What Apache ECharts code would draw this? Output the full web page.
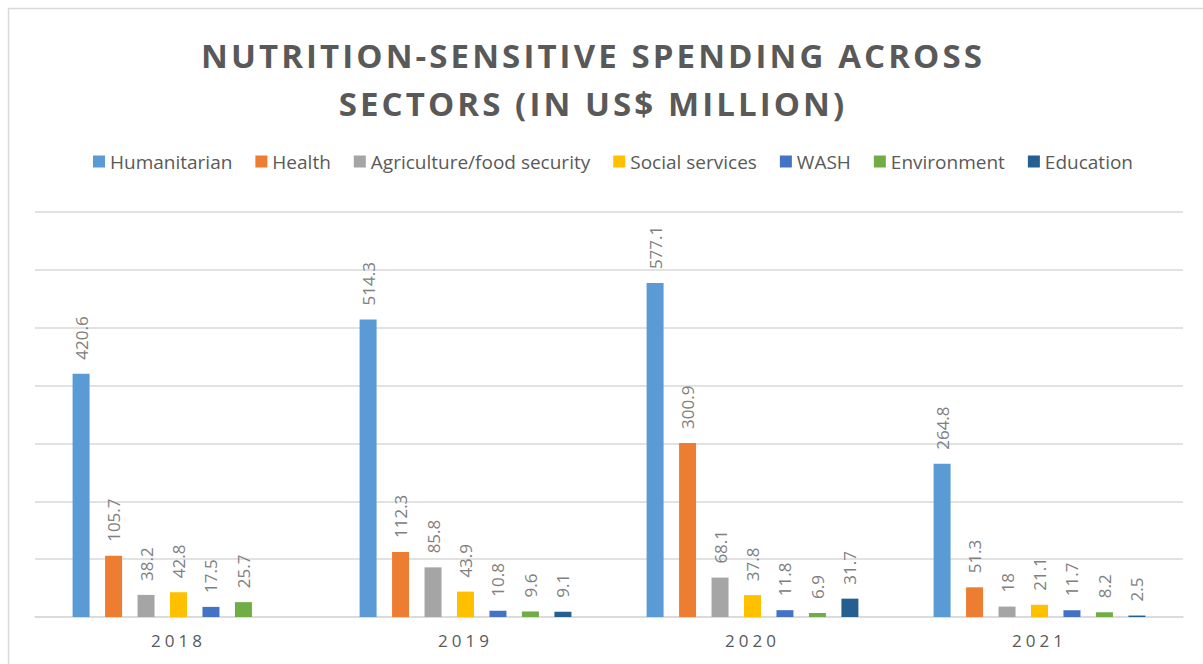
<!DOCTYPE html>
<html>
<head>
<meta charset="utf-8">
<script src="https://cdn.jsdelivr.net/npm/echarts@6/dist/echarts.min.js"></script>
<style>
html,body{margin:0;padding:0;background:#fff;}
#c{width:1203px;height:664px;}
</style>
</head>
<body>
<div id="c"></div>
<script>
var years = ['2018', '2019', '2020', '2021'];
var humanitarian = [420.6, 514.3, 577.1, 264.8];
var health = [105.7, 112.3, 300.9, 51.3];
var agriculture = [38.2, 85.8, 68.1, 18];
var socialServices = [42.8, 43.9, 37.8, 21.1];
var wash = [17.5, 10.8, 11.8, 11.7];
var environment = [25.7, 9.6, 6.9, 8.2];
var education = [null, 9.1, 31.7, 2.5];
var yTicks = [0, 100, 200, 300, 400, 500, 600, 700];
var titleLines = ['NUTRITION-SENSITIVE SPENDING ACROSS', 'SECTORS (IN US$ MILLION)'];

var seriesDefs = [
  ['Humanitarian', humanitarian, '#5B9BD5'],
  ['Health', health, '#ED7D31'],
  ['Agriculture/food security', agriculture, '#A5A5A5'],
  ['Social services', socialServices, '#FFC000'],
  ['WASH', wash, '#4472C4'],
  ['Environment', environment, '#70AD47'],
  ['Education', education, '#255E91']
];

var chart = echarts.init(document.getElementById('c'), null, { renderer: 'svg' });
var fontFam = '"Open Sans", "DejaVu Sans", sans-serif';

chart.setOption({
  animation: false,
  textStyle: { fontFamily: fontFam },
  graphic: [{
    type: 'rect',
    shape: { x: 8.5, y: 8.5, width: 1400, height: 900 },
    style: { fill: 'none', stroke: '#d9d9d9', lineWidth: 1.5 },
    silent: true
  }],
  title: {
    text: titleLines.join('\n'),
    left: 588,
    textAlign: 'center',
    top: 26,
    textStyle: {
      fontFamily: fontFam,
      fontSize: 33,
      fontWeight: 'bold',
      color: '#595959',
      lineHeight: 48
    }
  },
  legend: {
    top: 147,
    left: 88,
    itemWidth: 12,
    itemHeight: 12,
    itemGap: 23,
    icon: 'rect',
    textStyle: { fontSize: 19, color: '#595959', fontFamily: fontFam }
  },
  grid: { left: 35, right: 20, top: 212, bottom: 47 },
  xAxis: {
    type: 'category',
    data: years,
    axisLine: { lineStyle: { color: '#d9d9d9', width: 1.5 } },
    axisTick: { show: false },
    axisLabel: { color: '#595959', fontSize: 17, margin: 15, fontFamily: fontFam }
  },
  yAxis: {
    type: 'value',
    min: yTicks[0],
    max: yTicks[yTicks.length - 1],
    interval: 100,
    axisLabel: { show: false },
    axisLine: { show: false },
    axisTick: { show: false },
    splitLine: { lineStyle: { color: '#d9d9d9', width: 1.5 } }
  },
  series: seriesDefs.map(function (d) {
    return {
      name: d[0],
      type: 'bar',
      data: d[1],
      barWidth: 17,
      barGap: '91%',
      itemStyle: { color: d[2] },
      label: {
        show: true,
        position: 'top',
        rotate: 90,
        align: 'left',
        verticalAlign: 'middle',
        distance: 14,
        color: '#808080',
        fontSize: 17,
        fontFamily: fontFam
      }
    };
  })
});

function spaceLetters() {
  var texts = document.querySelectorAll('#c svg text');
  for (var i = 0; i < texts.length; i++) {
    var s = texts[i].textContent;
    if (titleLines.indexOf(s) >= 0) {
      texts[i].setAttribute('letter-spacing', '3.1');
    } else if (years.indexOf(s) >= 0) {
      texts[i].setAttribute('letter-spacing', '4');
    }
  }
}
spaceLetters();
chart.on('finished', spaceLetters);
setTimeout(spaceLetters, 50);
</script>
</body>
</html>
